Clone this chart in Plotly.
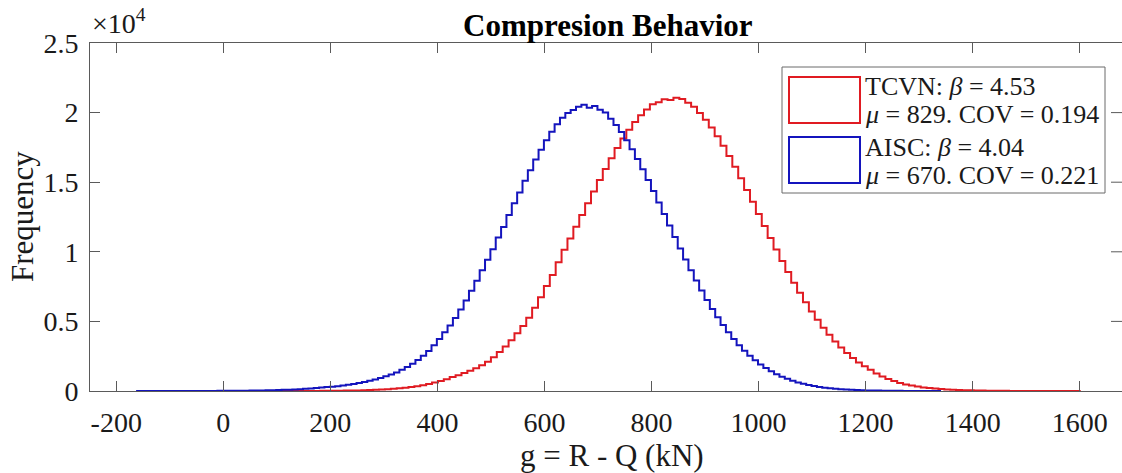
import plotly.graph_objects as go

# ---------------- data ----------------
title_text = "Compresion Behavior"
x_label = "g = R - Q (kN)"
y_label = "Frequency"

x_ticks = [-200, 0, 200, 400, 600, 800, 1000, 1200, 1400, 1600]
x_tick_text = ["-200", "0", "200", "400", "600", "800", "1000", "1200", "1400", "1600"]
y_ticks = [0, 5000, 10000, 15000, 20000, 25000]
y_tick_text = ["0", "0.5", "1", "1.5", "2", "2.5"]

# AISC (blue) histogram: first bin edge, bin width, counts
aisc_edge0 = -161.0
aisc_width = 10.0
aisc_counts = [
    1, 0, 1, 1, 1, 2, 1, 2, 3, 2,
    4, 5, 5, 7, 8, 10, 12, 15, 18, 22,
    26, 31, 37, 44, 52, 61, 72, 84, 98, 115,
    134, 157, 184, 214, 247, 280, 310, 346, 393, 445,
    504, 570, 646, 730, 826, 932, 1052, 1187, 1337, 1530,
    1730, 1960, 2230, 2527, 2870, 3280, 3730, 4220, 4700, 5242,
    5853, 6502, 7193, 7920, 8680, 9420, 10185, 11019, 11777, 12636,
    13493, 14268, 15104, 15855, 16633, 17324, 18006, 18624, 19167, 19630,
    19980, 20180, 20420, 20560, 20350, 20480, 20200, 20000, 19560, 19118,
    18598, 18012, 17369, 16672, 15934, 15160, 14361, 13543, 12714, 11882,
    11058, 10244, 9447, 8674, 7930, 7217, 6539, 5898, 5296, 4737,
    4215, 3736, 3295, 2893, 2530, 2203, 1909, 1647, 1414, 1210,
    1030, 873, 737, 619, 518, 431, 358, 295, 242, 198,
    161, 131, 106, 85, 68, 54, 43, 34, 27, 21,
    16, 12, 9, 7, 5, 4, 3, 2, 1, 1,
]

# TCVN (red) histogram
tcvn_edge0 = -50.0
tcvn_width = 11.0
tcvn_counts = [
    0, 0, 0, 0, 0, 0, 1, 0, 0, 1,
    0, 1, 1, 1, 2, 2, 3, 4, 5, 6,
    8, 10, 13, 17, 21, 27, 34, 43, 54, 67,
    83, 103, 127, 157, 193, 236, 287, 347, 419, 503,
    603, 718, 851, 1003, 1139, 1290, 1460, 1640, 1850, 2100,
    2429, 2795, 3201, 3649, 4141, 4675, 5256, 5974, 6737, 7541,
    8340, 9253, 10144, 10964, 11802, 12645, 13491, 14330, 15153, 15954,
    16723, 17453, 18135, 18760, 19323, 19815, 20231, 20600, 20750, 20960,
    20900, 21060, 20980, 20700, 20420, 19964, 19485, 18929, 18305, 17620,
    16882, 16102, 15286, 14446, 13588, 12723, 11858, 11000, 10158, 9338,
    8544, 7781, 7054, 6367, 5720, 5114, 4552, 4032, 3555, 3121,
    2727, 2372, 2054, 1770, 1518, 1260, 1050, 860, 710, 580,
    470, 390, 320, 260, 210, 172, 140, 113, 91, 73,
    58, 46, 36, 28, 22, 17, 13, 10, 8, 6,
    5, 4, 3, 2, 2, 1, 1, 0, 1, 1,
]

legend_lines = [
    ("TCVN: <i>β</i> = 4.53", "<i>μ</i> = 829. COV = 0.194"),
    ("AISC: <i>β</i> = 4.04", "<i>μ</i> = 670. COV = 0.221"),
]

RED = "#e01b22"
BLUE = "#1414bd"
AX = "#5a5a5a"
TXT = "#1a1a1a"
FONT = "Liberation Serif"


def stairs(edge0, width, counts):
    edges = [edge0 + width * k for k in range(len(counts) + 1)]
    xs = [edges[0]] + edges
    ys = [0] + list(counts) + [0]
    return xs, ys


fig = go.Figure()
for (e0, w, cnt, col) in [(tcvn_edge0, tcvn_width, tcvn_counts, RED),
                          (aisc_edge0, aisc_width, aisc_counts, BLUE)]:
    xs, ys = stairs(e0, w, cnt)
    fig.add_trace(go.Scatter(x=xs, y=ys, mode="lines", line_shape="hv",
                             line=dict(color=col, width=2), showlegend=False,
                             hoverinfo="skip"))

W, H = 1122, 473
L, R, T, B = 90, 0, 43, 82
pw, ph = W - L - R, H - T - B


def px(xp):
    return (xp - L) / pw


def py(yp):
    return (H - B - yp) / ph


fig.update_layout(
    width=W, height=H,
    margin=dict(l=L, r=R, t=T, b=B, pad=0),
    paper_bgcolor="white", plot_bgcolor="white",
    font=dict(family=FONT, color=TXT),
    xaxis=dict(range=[-249, 1679], tickvals=x_ticks, ticktext=x_tick_text,
               ticks="inside", ticklen=10, ticklabelstandoff=6,
               tickcolor=AX, showline=True, linecolor=AX, linewidth=1,
               mirror="ticks", showgrid=False, zeroline=False,
               tickfont=dict(family=FONT, size=28, color=TXT)),
    yaxis=dict(range=[0, 25000], tickvals=y_ticks, ticktext=y_tick_text,
               ticks="inside", ticklen=10, ticklabelstandoff=5,
               tickcolor=AX, showline=True,
               linecolor=AX, linewidth=1, showgrid=False, zeroline=False,
               tickfont=dict(family=FONT, size=28, color=TXT)),
)

ann = []
ann.append(dict(text="<b>" + title_text + "</b>", x=px(608), y=py(26),
                xref="paper", yref="paper", showarrow=False,
                font=dict(family=FONT, size=31, color="black"),
                xanchor="center", yanchor="middle"))
ann.append(dict(text=x_label, x=px(612), y=py(456), xref="paper", yref="paper",
                showarrow=False, font=dict(family=FONT, size=31, color=TXT),
                xanchor="center", yanchor="middle"))
ann.append(dict(text=y_label, x=px(22), y=py(217), xref="paper", yref="paper",
                showarrow=False, textangle=-90,
                font=dict(family=FONT, size=31, color=TXT),
                xanchor="center", yanchor="middle"))
ann.append(dict(text="×10<sup>4</sup>", x=px(90), y=py(41), xref="paper",
                yref="paper", showarrow=False,
                font=dict(family=FONT, size=28, color=TXT),
                xanchor="left", yanchor="bottom"))

# right-side y ticks (axis itself falls just outside the picture)
shapes = []
for yv in y_ticks[1:-1]:
    shapes.append(dict(type="line", xref="paper", yref="y", x0=px(1111),
                       x1=px(1122), y0=yv, y1=yv,
                       line=dict(color=AX, width=1)))

# legend
shapes.append(dict(type="rect", xref="paper", yref="paper", x0=px(782), x1=px(1105),
                   y0=py(193), y1=py(67), line=dict(color="#6a6a6a", width=1),
                   fillcolor="white", layer="above"))
rows = [(77, 123, RED), (137, 183, BLUE)]
for (top, bot, col), (l1, l2) in zip(rows, legend_lines):
    shapes.append(dict(type="rect", xref="paper", yref="paper", x0=px(789),
                       x1=px(860), y0=py(bot), y1=py(top),
                       line=dict(color=col, width=2), layer="above"))
    ann.append(dict(text=l1, x=px(863), y=py(top + 10), xref="paper",
                    yref="paper", showarrow=False, xanchor="left",
                    yanchor="middle", font=dict(family=FONT, size=26, color=TXT)))
    ann.append(dict(text=l2, x=px(863), y=py(bot - 8), xref="paper",
                    yref="paper", showarrow=False, xanchor="left",
                    yanchor="middle", font=dict(family=FONT, size=26, color=TXT)))

fig.update_layout(annotations=ann, shapes=shapes)
fig.write_html("out.html")
